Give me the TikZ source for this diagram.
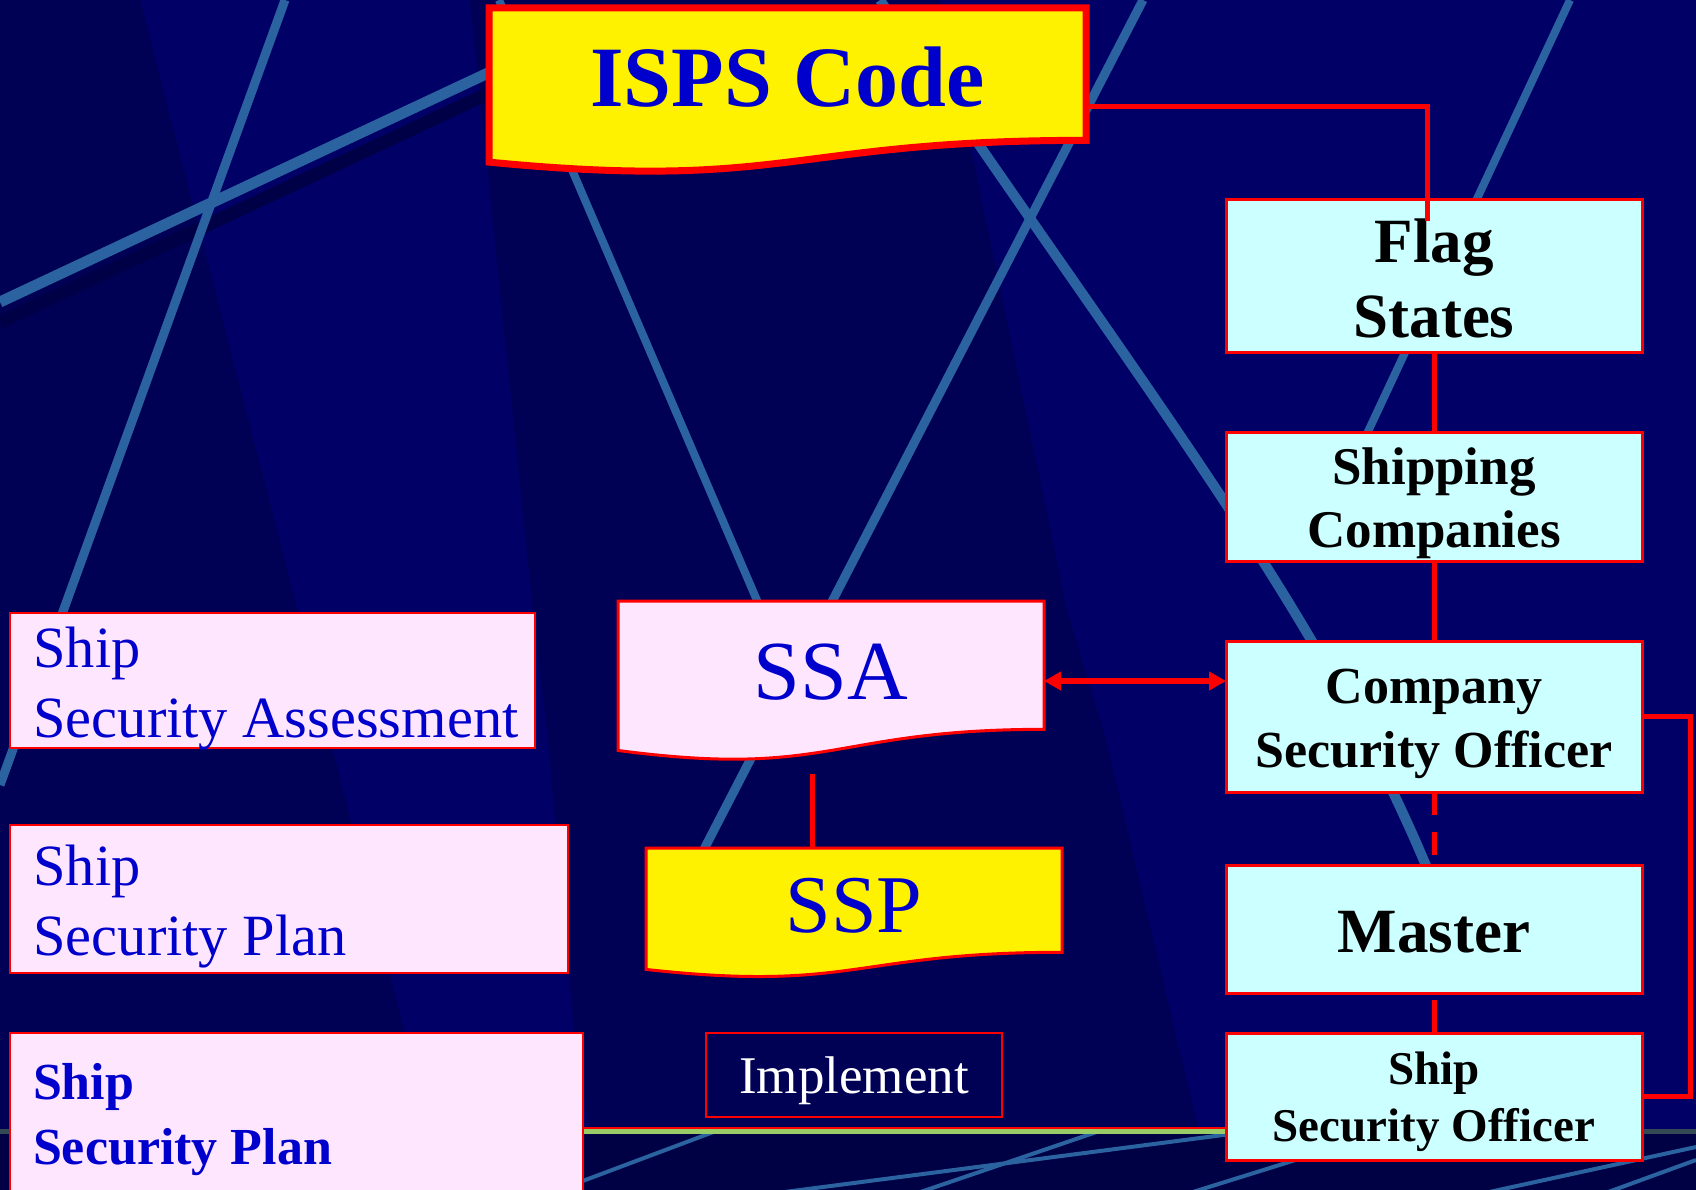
\documentclass[tikz,border=0pt]{standalone}
\usepackage{fontspec}
\setmainfont{Liberation Serif}
\usetikzlibrary{arrows.meta,calc}
\pgfdeclarelayer{bgl}
\pgfsetlayers{bgl,main}
\definecolor{navy}{HTML}{000066}
\definecolor{navydk}{HTML}{000054}
\definecolor{navyshadow}{HTML}{000046}
\definecolor{navybot}{HTML}{000044}
\definecolor{streak}{HTML}{2A63A0}
\definecolor{cyanbox}{HTML}{CCFFFF}
\definecolor{pinkbox}{HTML}{FFE6FF}
\definecolor{txtblue}{HTML}{0000CC}
\definecolor{barline}{HTML}{334A55}
\definecolor{bargreen}{HTML}{99CC66}
\newcommand\fs[2]{\fontsize{#1pt}{#2pt}\selectfont}
\newcommand\twoc[2]{\begin{tabular}[t]{@{}c@{}}#1\\#2\end{tabular}}
\newcommand\twol[3]{\makebox[#1pt][l]{\begin{tabular}[t]{@{}l@{}}#2\\#3\end{tabular}}}
\newcommand\docshape[2]{\draw[#2] (#1.north west) -- (#1.north east) -- ($(#1.north east)!0.802!(#1.south east)$) .. controls ($(#1.north)!0.802!(#1.south)$) and ($(#1.north)!1.1106!(#1.south)$) .. ($(#1.north west)!0.934!(#1.south west)$) -- cycle;}
\begin{document}
\begin{tikzpicture}[x=1pt,y=-1pt,line join=miter,
  rbox/.style={rectangle,draw=red,line width=3pt,inner sep=0pt,outer sep=0pt,text height=0pt},
  cbox/.style={rbox,fill=cyanbox,text=black},
  pbox/.style={rbox,fill=pinkbox,text=txtblue,line width=2.5pt},
  dnode/.style={rectangle,inner sep=0pt,outer sep=0pt,text depth=0pt,text=txtblue},
  conn/.style={draw=red,line width=5pt}]
\useasboundingbox (0,0) rectangle (1696,1190);

% ---------- background ----------
\begin{pgfonlayer}{bgl}
\fill[navy] (0,0) rectangle (1696,1190);
\fill[navydk] (0,0) -- (140,0) -- (300,620) -- (430,1134) -- (0,1134) -- cycle;
\fill[navydk] (470,0) -- (940,0) -- (1067,610) -- (1106,740) -- (1177,1040) -- (1200,1134)
  -- (590,1134) -- (575,1040) -- (548,740) -- (533,610) -- cycle;
\draw[navyshadow,line width=13pt] (0,322) -- (500,88);
\draw[streak,line width=11pt] (0,302) -- (520,58);
\draw[streak,line width=9pt] (285,0) -- (0,785);
\draw[streak,line width=8pt] (499,0) -- (762,612);
\draw[streak,line width=10pt] (880,0) .. controls (1150,400) and (1330,620) .. (1440,900);
\draw[streak,line width=9pt] (1143,0) -- (700,857);
\draw[streak!30!navy,line width=11pt] (702,853) -- (652,955);
\draw[streak,line width=8pt] (1570,0) -- (1350,470);
\fill[navybot] (0,1134) rectangle (1696,1190);
\begin{scope}
  \clip (0,1134) rectangle (1696,1190);
  \draw[streak,line width=4pt] (540,1197) -- (860,1077);
  \draw[streak,line width=4pt] (700,1203) -- (1300,1125);
  \draw[streak,line width=4pt] (900,1199) -- (1120,1124);
  \draw[streak,line width=4pt] (1180,1196) -- (1350,1143);
  \draw[streak,line width=4pt] (1480,1194) -- (1696,1147);
  \draw[streak,line width=4pt] (1600,1195) -- (1696,1160);
\end{scope}
\draw[barline,line width=5pt] (0,1131.5) -- (1696,1131.5);
\draw[bargreen,line width=5pt] (583,1131.5) -- (1226,1131.5);
\draw[red,line width=2pt] (583,1128) -- (1226,1128);
\end{pgfonlayer}

% ---------- right column ----------
\node[cbox,minimum width=416pt,minimum height=152pt,text depth=28pt,font=\fs{63}{75}\bfseries] (flag) at (1434,276) {\twoc{Flag}{States}};
\node[cbox,minimum width=416pt,minimum height=129pt,text depth=25pt,font=\fs{53}{63}\bfseries] (ship) at (1434,496.5) {\twoc{Shipping}{Companies}};
\node[cbox,minimum width=416pt,minimum height=151pt,text depth=27pt,font=\fs{52}{64}\bfseries] (cso) at (1434,716.5) {\twoc{Company}{Security Officer}};
\node[cbox,minimum width=416pt,minimum height=128pt,text height=46pt,text depth=0pt,font=\fs{63}{75}\bfseries] (mas) at (1434,929) {Master};
\node[cbox,minimum width=416pt,minimum height=127pt,text depth=25pt,font=\fs{47}{57}\bfseries] (sso) at (1434,1096.5) {\twoc{Ship}{Security Officer}};

% ---------- left column ----------
\node[pbox,minimum width=525pt,minimum height=135pt,text depth=27pt,font=\fs{58.4}{70}] (bsa) at (272.5,680.5) {\twol{478}{Ship}{Security Assessment}};
\node[pbox,minimum width=558pt,minimum height=148pt,text depth=28pt,font=\fs{58.4}{70}] (bsp) at (289,899) {\twol{511}{Ship}{Security Plan}};
\node[pbox,minimum width=573pt,minimum height=159pt,text depth=27pt,font=\fs{52}{65}\bfseries] (bspb) at (296.5,1112.5) {\twol{527}{Ship}{Security Plan}};

% ---------- middle ----------
\node[dnode,minimum width=597pt,minimum height=165pt,text height=33pt,font=\fs{86}{100}\bfseries] (isps) at (787.5,90.5) {ISPS Code};
\node[dnode,minimum width=426pt,minimum height=160pt,text height=36pt,font=\fs{84}{100}] (ssa) at (831,681) {SSA};
\node[dnode,minimum width=416pt,minimum height=130pt,text height=38pt,font=\fs{82}{100}] (ssp) at (854,913) {SSP};
\node[rbox,line width=2pt,minimum width=296pt,minimum height=84pt,text height=36pt,text depth=0pt,text=white,font=\fs{53}{60}] (impl) at (854,1075) {Implement};

\begin{pgfonlayer}{bgl}
\docshape{isps}{fill=yellow,draw=red,line width=7pt}
\docshape{ssa}{fill=pinkbox,draw=red,line width=3pt}
\docshape{ssp}{fill=yellow,draw=red,line width=3pt}
\end{pgfonlayer}

% ---------- connectors ----------
\draw[conn] ([yshift=-16.5pt]isps.east) -| ([xshift=-7pt,yshift=-21pt]flag.north);
\draw[conn] (flag.south) -- (ship.north);
\draw[conn] (ship.south) -- (cso.north);
\draw[conn,dash pattern=on 23pt off 17pt] (cso.south) -- (mas.north);
\draw[conn,shorten <=7pt] (mas.south) -- (sso.north);
\draw[conn,line width=6pt,>={Triangle[length=17pt,width=18pt]},<->] (ssa.east) -- (cso.west |- ssa.east);
\draw[conn] ([xshift=-19pt,yshift=-13pt]ssa.south) -- ([xshift=-42pt]ssp.north);
\draw[conn] (cso.east) -- ++(48,0) |- (sso.east);
\end{tikzpicture}
\end{document}
